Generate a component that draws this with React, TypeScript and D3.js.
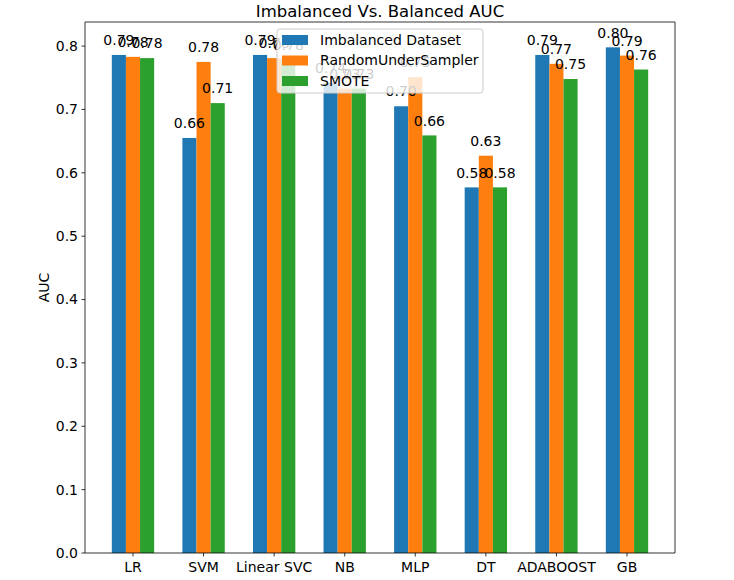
import React from "react";
import * as d3 from "d3";

const categories = ["LR", "SVM", "Linear SVC", "NB", "MLP", "DT", "ADABOOST", "GB"];
const seriesNames = ["Imbalanced Dataset", "RandomUnderSampler", "SMOTE"];
const imbalanced = [0.786, 0.655, 0.786, 0.742, 0.705, 0.577, 0.786, 0.798];
const underSampler = [0.783, 0.775, 0.781, 0.733, 0.751, 0.627, 0.772, 0.785];
const smote = [0.781, 0.71, 0.779, 0.733, 0.659, 0.577, 0.748, 0.763];
const yTicks = [0, 0.1, 0.2, 0.3, 0.4, 0.5, 0.6, 0.7, 0.8];
const colors = ["#1f77b4", "#ff7f0e", "#2ca02c"];

const W = 734;
const H = 580;
const left = 85;
const right = 675;
const top = 22;
const bottom = 553;
const FONT = "DejaVu Sans, sans-serif";

export default function App() {
  const series = [imbalanced, underSampler, smote];
  const barW = 0.2;
  const x = d3.scaleLinear().domain([-0.68, 7.68]).range([left, right]);
  const y = d3.scaleLinear().domain([0, 0.838]).range([bottom, top]);
  const offsets = [-barW, 0, barW];

  const legX = 277, legY = 29, legW = 206, legH = 64;

  return (
    <svg width={W} height={H} style={{ position: "absolute", left: 0, top: 0, background: "#fff" }} fontFamily={FONT}>
      <rect x={0} y={0} width={W} height={H} fill="#fff" />
      {series.map((vals, si) =>
        vals.map((v, ci) => {
          const x0 = x(ci + offsets[si] - barW / 2);
          const x1 = x(ci + offsets[si] + barW / 2);
          return (
            <rect key={`b${si}-${ci}`} x={x0} y={y(v)} width={x1 - x0} height={y(0) - y(v)} fill={colors[si]} />
          );
        })
      )}
      {series.map((vals, si) =>
        vals.map((v, ci) => (
          <text key={`t${si}-${ci}`} x={x(ci + offsets[si])} y={y(v + 0.01) - 3.5} textAnchor="middle" fontSize={14} fill="#000">
            {v.toFixed(2)}
          </text>
        ))
      )}
      <line x1={left} y1={top} x2={right} y2={top} stroke="#000" strokeWidth={0.8} />
      <line x1={left} y1={bottom} x2={right} y2={bottom} stroke="#000" strokeWidth={0.8} />
      <line x1={left} y1={top} x2={left} y2={bottom} stroke="#000" strokeWidth={0.8} />
      <line x1={right} y1={top} x2={right} y2={bottom} stroke="#000" strokeWidth={0.8} />
      {yTicks.map((t) => (
        <g key={`y${t}`}>
          <line x1={left - 3.5} x2={left} y1={y(t)} y2={y(t)} stroke="#000" strokeWidth={0.8} />
          <text x={left - 7} y={y(t)} dy="0.35em" textAnchor="end" fontSize={14} fill="#000">
            {t.toFixed(1)}
          </text>
        </g>
      ))}
      {categories.map((c, i) => (
        <g key={`x${c}`}>
          <line x1={x(i)} x2={x(i)} y1={bottom} y2={bottom + 3.5} stroke="#000" strokeWidth={0.8} />
          <text x={x(i)} y={bottom + 19} textAnchor="middle" fontSize={14} fill="#000">
            {c}
          </text>
        </g>
      ))}
      <text transform={`translate(49,${(top + bottom) / 2}) rotate(-90)`} textAnchor="middle" fontSize={14} fill="#000">
        AUC
      </text>
      <text x={(left + right) / 2} y={17} textAnchor="middle" fontSize={16.5} fill="#000">
        Imbalanced Vs. Balanced AUC
      </text>
      <g>
        <rect x={legX} y={legY} width={legW} height={legH} rx={3} fill="#fff" fillOpacity={0.8} stroke="#ccc" strokeWidth={1} />
        {seriesNames.map((n, i) => (
          <g key={`l${n}`}>
            <rect x={282} y={legY + 6 + i * 20.5} width={26} height={10} fill={colors[i]} />
            <text x={320} y={legY + 11 + i * 20.5} dy="0.35em" fontSize={14} fill="#000">
              {n}
            </text>
          </g>
        ))}
      </g>
    </svg>
  );
}
